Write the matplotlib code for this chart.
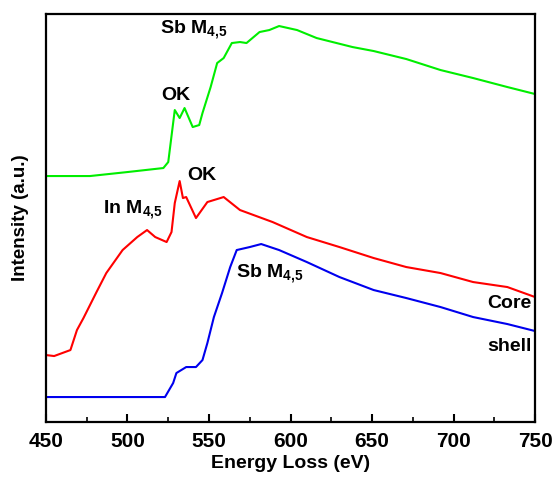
import numpy as np
import matplotlib.pyplot as plt
from matplotlib.ticker import MultipleLocator

plt.rcParams['font.family'] = 'Liberation Sans'
plt.rcParams['font.weight'] = 'bold'
plt.rcParams['mathtext.fontset'] = 'custom'
plt.rcParams['mathtext.rm'] = 'Liberation Sans:bold'
plt.rcParams['mathtext.bf'] = 'Liberation Sans:bold'
plt.rcParams['mathtext.default'] = 'bf'

# EELS spectra (energy loss in eV, intensity in arbitrary units, offset)
e_shell_top = [450, 477, 500, 522, 525, 529, 532, 535, 540, 544, 546, 551, 555, 559,
               564, 569, 573, 581, 587, 593, 604, 616, 638, 651, 671, 692, 712, 733, 750]
i_shell_top = [246, 246, 250, 254, 260, 312, 304, 314, 295, 297, 309, 335, 359, 364,
               379, 380, 379, 390, 392, 396, 392, 384, 375, 371, 363, 352, 344, 335, 328]

e_core = [450, 455, 465, 469, 473, 481, 487, 497, 506, 512, 517, 524, 527, 529, 532,
          534, 536, 542, 549, 559, 569, 589, 610, 630, 651, 671, 692, 712, 733, 750]
i_core = [67, 66, 72, 92, 104, 130, 149, 172, 185, 192, 185, 180, 190, 219, 241,
          224, 225, 204, 220, 225, 212, 200, 185, 175, 164, 155, 149, 140, 135, 125]

e_shell = [450, 477, 500, 523, 528, 530, 536, 542, 546, 549, 553, 558, 563, 567,
           575, 582, 593, 610, 630, 651, 671, 692, 712, 733, 750]
i_shell = [25, 25, 25, 25, 39, 49, 55, 55, 62, 79, 105, 129, 155, 172,
           175, 178, 172, 160, 145, 132, 124, 115, 105, 98, 91]

fig = plt.figure(figsize=(5.58, 4.84), dpi=100)
ax = fig.add_axes([0.0824, 0.128, 0.8765, 0.843])

ax.plot(e_shell_top, i_shell_top, color='#00ee00', lw=1.5)
ax.plot(e_core, i_core, color='#ff0000', lw=1.5)
ax.plot(e_shell, i_shell, color='#0000ee', lw=1.5)

fs = 14
sub = r'$_{4{,}5}$'
ax.text(520, 392, 'Sb M' + sub, fontsize=fs, fontweight='bold', va='center')
ax.text(521, 327, 'OK', fontsize=fs, fontweight='bold', va='center')
ax.text(536.5, 247, 'OK', fontsize=fs, fontweight='bold', va='center')
ax.text(485, 212, 'In M' + sub, fontsize=fs, fontweight='bold', va='center')
ax.text(566.5, 148, 'Sb M' + sub, fontsize=fs, fontweight='bold', va='center')
ax.text(748, 119, 'Core', fontsize=fs, fontweight='bold', va='center', ha='right')
ax.text(748, 76, 'shell', fontsize=fs, fontweight='bold', va='center', ha='right')

ax.set_xlim(450, 750)
ax.set_ylim(0, 408)
ax.xaxis.set_major_locator(MultipleLocator(50))
ax.xaxis.set_minor_locator(MultipleLocator(25))
ax.set_yticks([])
ax.tick_params(axis='x', which='major', direction='in', length=6, width=1.5,
               labelsize=15, pad=7)
ax.tick_params(axis='x', which='minor', direction='in', length=3.5, width=1.2)
for lbl in ax.get_xticklabels():
    lbl.set_fontweight('bold')
for s in ax.spines.values():
    s.set_linewidth(1.6)

ax.set_xlabel('Energy Loss (eV)', fontsize=14, fontweight='bold', labelpad=3)
ax.set_ylabel('Intensity (a.u.)', fontsize=13.5, fontweight='bold', labelpad=12)

fig.savefig('out.png', dpi=100)
